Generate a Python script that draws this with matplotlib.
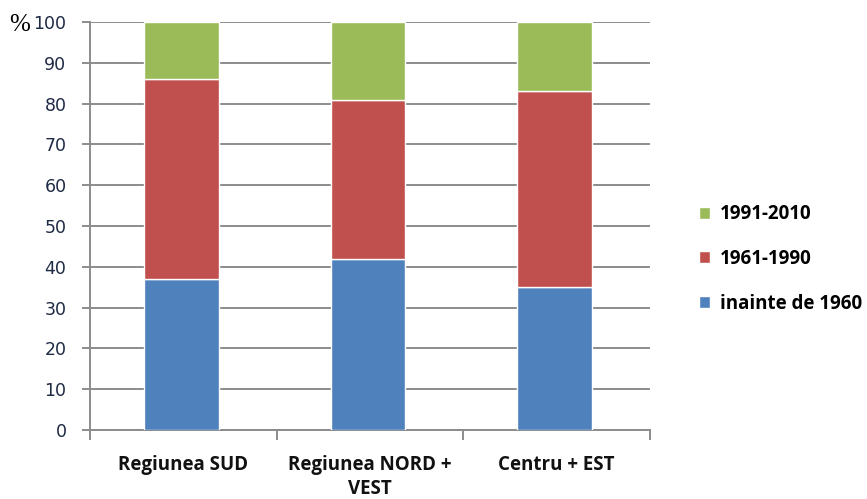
import matplotlib

matplotlib.use('Agg')
import matplotlib.pyplot as plt
import numpy as np

# share of dwellings by construction period, per region (%)
regions = ['Regiunea SUD', 'Regiunea NORD +\nVEST', 'Centru + EST']
before_1960 = [37, 42, 35]
p1961_1990 = [49, 39, 48]
p1991_2010 = [14, 19, 17]
series_labels = ['inainte de 1960', '1961-1990', '1991-2010']
colors = ['#4f81bd', '#c0504d', '#9bbb59']
y_ticks = list(range(0, 101, 10))

fig = plt.figure(figsize=(8.67, 4.99), dpi=100)
ax = fig.add_axes([0.1038, 0.1383, 0.6459, 0.8176])

x = np.arange(len(regions))
bottom = np.zeros(len(regions))
handles = []
for vals, lab, col in zip([before_1960, p1961_1990, p1991_2010], series_labels, colors):
    h = ax.bar(x - 0.01, vals, width=0.4, bottom=bottom, color=col, edgecolor='white',
               linewidth=1.0, label=lab, zorder=3)
    handles.append(h)
    bottom += np.array(vals)

ax.set_xlim(-0.5, len(regions) - 0.5)
ax.set_ylim(0, 100)
ax.set_yticks(y_ticks)
ax.yaxis.grid(True, color='#8c8c8c', linewidth=1.4, zorder=0)
ax.set_axisbelow(True)

for side in ['top', 'right']:
    ax.spines[side].set_visible(False)
for side in ['left', 'bottom']:
    ax.spines[side].set_color('#8c8c8c')
    ax.spines[side].set_linewidth(1.4)

ax.tick_params(axis='y', colors='#8c8c8c', length=6, width=1.4, labelsize=12.5,
               labelcolor='#1f2a44', pad=11)
ax.set_yticklabels([str(t) for t in y_ticks], family='DejaVu Sans')

# category ticks sit between the bars, labels centred under them
ax.set_xticks(np.arange(len(regions) + 1) - 0.5)
ax.set_xticklabels([])
ax.set_xticks(x, minor=True)
ax.set_xticklabels(regions, minor=True, fontsize=13.5, fontweight='bold',
                   family='Open Sans', color='#111111', linespacing=1.25)
ax.tick_params(axis='x', which='major', colors='#8c8c8c', length=7, width=1.4)
ax.tick_params(axis='x', which='minor', length=0, pad=18)
for lbl in ax.get_xticklabels(minor=True):
    lbl.set_verticalalignment('top')

fig.text(0.011, 0.95, '%', family='Liberation Serif', fontsize=18, va='center', ha='left')

leg = fig.legend(handles[::-1], series_labels[::-1], loc='center left',
                 bbox_to_anchor=(0.787, 0.481), frameon=False,
                 prop={'family': 'Open Sans', 'weight': 'bold', 'size': 13.5},
                 handlelength=0.6, handleheight=0.6, handletextpad=0.5,
                 labelspacing=1.32)

fig.savefig('out.png', dpi=100)
